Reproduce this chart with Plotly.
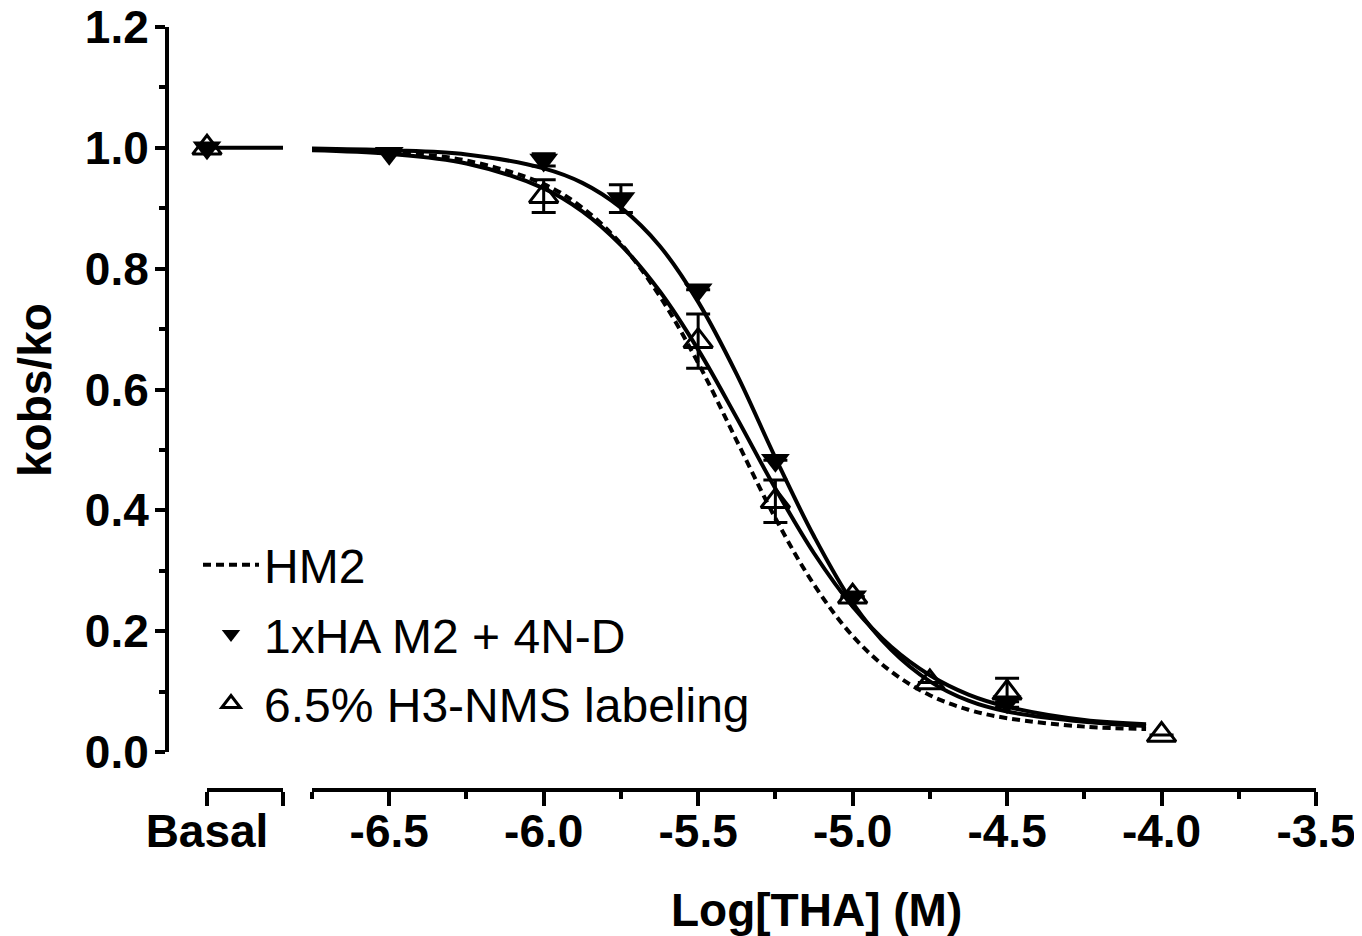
import plotly.graph_objects as go

W, H = 1362, 936
PAGE_OFF = 8  # default page margin of the html body

# ---------------- data ----------------
basal_label = "Basal"
basal_ha = 1.0
basal_nms = 1.0
basal_fit = 1.0

# fitted curves
curve_x = [-6.75, -6.5, -6.25, -6.0, -5.875, -5.75, -5.625, -5.5, -5.375,
           -5.25, -5.125, -5.0, -4.875, -4.75, -4.625, -4.5, -4.25, -4.05]
hm2_fit = [0.998, 0.993, 0.979, 0.940, 0.901, 0.841, 0.755, 0.644, 0.515,
           0.387, 0.277, 0.192, 0.133, 0.094, 0.070, 0.056, 0.042, 0.038]
ha_fit = [0.999, 0.996, 0.989, 0.966, 0.942, 0.901, 0.838, 0.745, 0.625,
          0.487, 0.357, 0.247, 0.169, 0.117, 0.085, 0.067, 0.050, 0.043]
nms_fit = [0.996, 0.990, 0.974, 0.933, 0.895, 0.839, 0.763, 0.666, 0.553,
           0.436, 0.329, 0.241, 0.174, 0.127, 0.095, 0.075, 0.053, 0.046]

# 1xHA M2 + 4N-D (filled down triangles)
ha_x = [-6.5, -6.0, -5.75, -5.5, -5.25, -5.0, -4.5]
ha_y = [0.991, 0.980, 0.916, 0.765, 0.483, 0.257, 0.083]
ha_err = [None, 0.010, 0.023, None, None, None, None]

# 6.5% H3-NMS labeling (open up triangles)
nms_x = [-6.0, -5.5, -5.25, -5.0, -4.75, -4.5, -4.0]
nms_y = [0.920, 0.680, 0.415, 0.257, 0.115, 0.098, 0.028]
nms_err = [0.027, 0.045, 0.035, None, None, 0.024, None]

series_names = ["HM2", "1xHA M2 + 4N-D", "6.5% H3-NMS labeling"]

y_ticks = [0.0, 0.2, 0.4, 0.6, 0.8, 1.0, 1.2]
y_ticktext = ["0.0", "0.2", "0.4", "0.6", "0.8", "1.0", "1.2"]
y_minor = [0.1, 0.3, 0.5, 0.7, 0.9, 1.1]
x_ticks = [-6.5, -6.0, -5.5, -5.0, -4.5, -4.0, -3.5]
x_ticktext = ["-6.5", "-6.0", "-5.5", "-5.0", "-4.5", "-4.0", "-3.5"]
x_minor = [-6.75, -6.25, -5.75, -5.25, -4.75, -4.25, -3.75]

x_title = "Log[THA] (M)"
y_title = "kobs/ko"

# ---------------- styling ----------------
FONT = "Arial, Liberation Sans, Helvetica, sans-serif"
BLACK = "#000000"
LW = 4
MS = 25


def fx(p):
    return (p - PAGE_OFF) / W


def fy(p):
    return 1 - (p - PAGE_OFF) / H


fig = go.Figure()

# fit curves
fig.add_trace(go.Scatter(x=curve_x, y=hm2_fit, mode="lines", name=series_names[0],
                         line=dict(color=BLACK, width=LW, dash="8px,5px", shape="spline"),
                         xaxis="x2", yaxis="y", legendgroup="a", cliponaxis=False))
fig.add_trace(go.Scatter(x=curve_x, y=ha_fit, mode="lines", showlegend=False,
                         line=dict(color=BLACK, width=LW, shape="spline"),
                         xaxis="x2", yaxis="y", legendgroup="b", cliponaxis=False))
fig.add_trace(go.Scatter(x=curve_x, y=nms_fit, mode="lines", showlegend=False,
                         line=dict(color=BLACK, width=LW, shape="spline"),
                         xaxis="x2", yaxis="y", legendgroup="c", cliponaxis=False))

# data points
fig.add_trace(go.Scatter(x=ha_x, y=ha_y, mode="markers", name=series_names[1],
                         marker=dict(symbol="triangle-down", size=MS, color=BLACK),
                         error_y=dict(type="data", array=ha_err, visible=True,
                                      color=BLACK, thickness=3, width=12),
                         xaxis="x2", yaxis="y", legendgroup="b", cliponaxis=False))
fig.add_trace(go.Scatter(x=nms_x, y=nms_y, mode="markers", name=series_names[2],
                         marker=dict(symbol="triangle-up-open", size=MS, color=BLACK,
                                     line=dict(color=BLACK, width=3)),
                         error_y=dict(type="data", array=nms_err, visible=True,
                                      color=BLACK, thickness=3, width=12),
                         xaxis="x2", yaxis="y", legendgroup="c", cliponaxis=False))

# basal points
fig.add_trace(go.Scatter(x=[0], y=[basal_ha], mode="markers", showlegend=False,
                         marker=dict(symbol="triangle-down", size=MS, color=BLACK),
                         xaxis="x", yaxis="y", legendgroup="b", cliponaxis=False))
fig.add_trace(go.Scatter(x=[0], y=[basal_nms], mode="markers", showlegend=False,
                         marker=dict(symbol="triangle-up-open", size=MS, color=BLACK,
                                     line=dict(color=BLACK, width=3)),
                         xaxis="x", yaxis="y", legendgroup="c", cliponaxis=False))

# basal fit line across the basal segment
fig.add_shape(type="line", xref="x domain", yref="y", x0=0, x1=1,
              y0=basal_fit, y1=basal_fit, line=dict(color=BLACK, width=LW), layer="below")

axis_common = dict(showline=True, linewidth=LW, linecolor=BLACK, ticks="outside",
                   tickwidth=LW, tickcolor=BLACK, showgrid=False, zeroline=False,
                   tickfont=dict(family=FONT, size=46, color=BLACK, weight="bold"),
                   ticklabeloverflow="allow",
                   automargin=False, fixedrange=True)

x_pos = fy(790)

fig.update_layout(
    width=W, height=H,
    margin=dict(l=0, r=0, t=0, b=0),
    autosize=False,
    paper_bgcolor="white", plot_bgcolor="white",
    showlegend=True,
    xaxis=dict(domain=[fx(207), fx(283)], range=[0, 1], anchor="free", position=x_pos,
               tickmode="array", tickvals=[0, 1], ticktext=[basal_label, ""],
               ticklen=14, ticklabelstandoff=-14, **axis_common),
    xaxis2=dict(domain=[fx(312), fx(1316)], range=[-6.75, -3.5], anchor="free",
                position=x_pos, tickmode="array", tickvals=x_ticks, ticktext=x_ticktext,
                ticklen=14, ticklabelstandoff=-14,
                minor=dict(tickmode="array", tickvals=x_minor, ticks="outside",
                           ticklen=7, tickwidth=LW, tickcolor=BLACK),
                **axis_common),
    yaxis=dict(domain=[fy(752), fy(27)], range=[0, 1.2], anchor="free", position=fx(167),
               tickmode="array", tickvals=y_ticks, ticktext=y_ticktext, ticklen=10,
               ticklabelstandoff=-3,
               minor=dict(tickmode="array", tickvals=y_minor, ticks="outside",
                          ticklen=6, tickwidth=LW, tickcolor=BLACK),
               **axis_common),
    legend=dict(x=fx(198), y=fy(527), xanchor="left", yanchor="top",
                bgcolor="rgba(0,0,0,0)", borderwidth=0,
                font=dict(family=FONT, size=48, color=BLACK),
                traceorder="grouped", tracegroupgap=4, itemwidth=56),
    annotations=[
        dict(text=y_title, x=fx(35), y=fy(390), xref="paper", yref="paper",
             xanchor="center", yanchor="middle",
             showarrow=False, textangle=-90,
             font=dict(family=FONT, size=46, color=BLACK, weight="bold")),
        dict(text=x_title, x=fx(817), y=fy(910), xref="paper", yref="paper",
             xanchor="center", yanchor="middle",
             showarrow=False,
             font=dict(family=FONT, size=46, color=BLACK, weight="bold")),
    ],
)

fig.write_html("out.html")
